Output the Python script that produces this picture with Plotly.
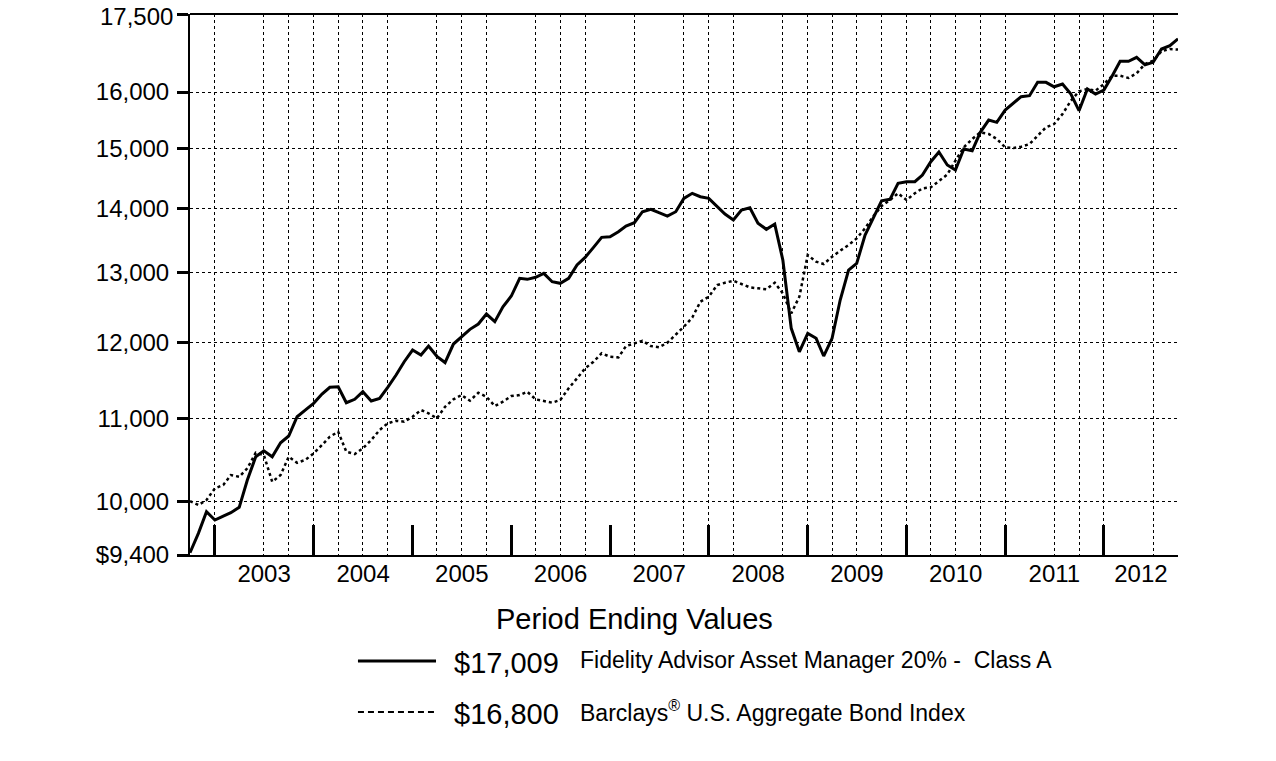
import pandas as pd
import plotly.graph_objects as go

# Monthly period-ending values, Sep 2002 .. Sep 2012
months = pd.date_range("2002-09-30", periods=121, freq="ME")

fund_values = [
    9425, 9637, 9879, 9785, 9830, 9868, 9929, 10245, 10523, 10596,
    10523, 10694, 10777, 11018, 11103, 11189, 11309, 11397, 11404, 11197,
    11241, 11339, 11219, 11253, 11397, 11559, 11737, 11896, 11827, 11950,
    11810, 11726, 11978, 12079, 12182, 12256, 12398, 12289, 12502, 12657,
    12917, 12902, 12932, 12991, 12867, 12843, 12917, 13116, 13232, 13385,
    13540, 13549, 13627, 13717, 13769, 13944, 13983, 13928, 13875, 13944,
    14160, 14242, 14187, 14160, 14036, 13907, 13812, 13971, 14008, 13760,
    13665, 13748, 13191, 12196, 11872, 12126, 12057, 11814, 12057, 12599,
    13041, 13141, 13576, 13839, 14121, 14144, 14407, 14433, 14433, 14545,
    14769, 14934, 14713, 14628, 14986, 14956, 15276, 15493, 15452, 15672,
    15793, 15914, 15932, 16179, 16179, 16097, 16147, 15963, 15660, 16055,
    15963, 16037, 16302, 16574, 16574, 16650, 16509, 16555, 16810, 16874,
    17009,
]

index_values = [
    10000, 9955, 10013, 10148, 10187, 10304, 10284, 10384, 10572, 10544,
    10225, 10304, 10523, 10451, 10484, 10564, 10666, 10768, 10830, 10584,
    10556, 10625, 10727, 10851, 10935, 10968, 10955, 11018, 11103, 11061,
    10998, 11145, 11241, 11296, 11223, 11326, 11274, 11154, 11210, 11283,
    11296, 11339, 11241, 11223, 11197, 11232, 11384, 11515, 11648, 11737,
    11851, 11804, 11796, 11950, 11988, 12023, 11950, 11933, 11996, 12102,
    12218, 12348, 12574, 12647, 12818, 12852, 12881, 12833, 12784, 12769,
    12755, 12852, 12696, 12408, 12647, 13267, 13166, 13131, 13241, 13333,
    13421, 13524, 13681, 13875, 14036, 14133, 14242, 14133, 14242, 14324,
    14340, 14444, 14553, 14786, 15015, 15159, 15276, 15246, 15159, 15015,
    15002, 15025, 15071, 15216, 15364, 15422, 15600, 15840, 16013, 16055,
    16024, 16147, 16302, 16302, 16259, 16347, 16523, 16586, 16766, 16810,
    16800,
]

y_ticks = [9400, 10000, 11000, 12000, 13000, 14000, 15000, 16000, 17500]
# top label is drawn as an annotation so it is not clipped by the page edge
y_labels = ["$9,400", "10,000", "11,000", "12,000", "13,000", "14,000",
            "15,000", "16,000", ""]
top_label = "17,500"

year_names = ["2003", "2004", "2005", "2006", "2007", "2008", "2009",
              "2010", "2011", "2012"]
year_label_dates = ["2003-07-01", "2004-07-01", "2005-07-01", "2006-07-01",
                    "2007-07-01", "2008-07-01", "2009-07-01", "2010-07-01",
                    "2011-07-01", "2012-05-16"]
year_breaks = ["2002-12-31", "2003-12-31", "2004-12-31", "2005-12-31",
               "2006-12-31", "2007-12-31", "2008-12-31", "2009-12-31",
               "2010-12-31", "2011-12-31"]

grid_dates = ["2002-12-31", "2003-06-30", "2003-09-30", "2003-12-31",
              "2004-03-31", "2004-06-30", "2004-09-30", "2005-03-31",
              "2005-06-30", "2005-09-30", "2006-03-31", "2006-06-30",
              "2006-09-30", "2007-03-31", "2007-09-30", "2007-12-31",
              "2008-03-31", "2008-09-30", "2008-12-31", "2009-03-31",
              "2009-06-30", "2009-09-30", "2009-12-31", "2010-03-31",
              "2010-06-30", "2010-09-30", "2010-12-31", "2011-06-30",
              "2011-09-30", "2011-12-31", "2012-06-30"]

legend_names = ["Fidelity Advisor Asset Manager 20% -&nbsp; Class A",
                "Barclays<sup>®</sup> U.S. Aggregate Bond Index"]
legend_values = ["$17,009", "$16,800"]

FONT = "Liberation Sans, Arial, sans-serif"
x_range = ["2002-09-30", "2012-09-30"]
# log10(9400) .. just above log10(17500) so the top tick is kept
y_range = [3.9731279, 4.2430390]

fig = go.Figure()
fig.add_trace(go.Scatter(x=months, y=index_values, mode="lines",
                         line=dict(color="black", width=2.5, dash="dot"),
                         showlegend=False))
fig.add_trace(go.Scatter(x=months, y=fund_values, mode="lines",
                         line=dict(color="black", width=3),
                         showlegend=False))

# page body has an 8px margin, so the figure is 8px smaller each way
fig.update_layout(
    width=1268, height=753,
    margin=dict(l=182, r=98, t=6, b=206),
    paper_bgcolor="white", plot_bgcolor="white",
    font=dict(family=FONT, color="black"),
    xaxis=dict(type="date", range=x_range,
               tickvals=year_label_dates, ticktext=year_names,
               ticks="", tickfont=dict(size=24),
               ticklabelstandoff=-4, automargin=False,
               showline=True, linecolor="black", linewidth=2,
               showgrid=False, zeroline=False,
               minor=dict(tickvals=grid_dates, showgrid=True,
                          gridcolor="black", gridwidth=1, griddash="dot",
                          ticks="")),
    xaxis2=dict(type="date", range=x_range, overlaying="x", anchor="y",
                side="bottom", tickvals=year_breaks, ticks="inside",
                ticklen=30, tickwidth=3, tickcolor="black",
                showticklabels=False, showgrid=False, showline=False,
                zeroline=False, automargin=False),
    yaxis=dict(type="log", range=y_range,
               tickvals=y_ticks, ticktext=y_labels,
               tickfont=dict(size=24), ticklabelstandoff=3,
               automargin=False,
               ticks="outside", ticklen=11, tickwidth=3, tickcolor="black",
               showline=True, linecolor="black", linewidth=2,
               showgrid=True, gridcolor="black", gridwidth=1, griddash="dot",
               zeroline=False),
)

# the overlaying axis needs a trace to be drawn
fig.add_trace(go.Scatter(x=[months[0]], y=[fund_values[0]], xaxis="x2",
                         mode="markers", marker=dict(opacity=0),
                         hoverinfo="skip", showlegend=False))

# top border of the plot frame
fig.add_shape(type="line", xref="paper", yref="paper", x0=0, x1=1, y0=1, y1=1,
              line=dict(color="black", width=2))

fig.add_annotation(text=top_label, xref="paper", yref="paper",
                   x=0, y=1, xanchor="right", yanchor="middle",
                   xshift=-15, yshift=-2, showarrow=False,
                   font=dict(size=24, family=FONT))

fig.add_annotation(text="Period Ending Values", xref="paper", yref="paper",
                   x=0.4494, y=-0.1183, xanchor="center", yanchor="middle",
                   showarrow=False, font=dict(size=29, family=FONT))

rows_y = [-0.1959, -0.2902]
dashes = ["solid", "6px,4px"]
widths = [3, 2]
for i in range(2):
    fig.add_shape(type="line", xref="paper", yref="paper",
                  x0=0.170, x1=0.249, y0=rows_y[i], y1=rows_y[i],
                  line=dict(color="black", width=widths[i], dash=dashes[i]))
    fig.add_annotation(text=legend_values[i], xref="paper", yref="paper",
                       x=0.2652, y=rows_y[i] - 0.004, xanchor="left",
                       yanchor="middle", showarrow=False,
                       font=dict(size=29, family=FONT))
    fig.add_annotation(text=legend_names[i], xref="paper", yref="paper",
                       x=0.3927, y=rows_y[i] + 0.002, xanchor="left",
                       yanchor="middle", showarrow=False,
                       font=dict(size=23, family=FONT))

fig.write_html("out.html")
